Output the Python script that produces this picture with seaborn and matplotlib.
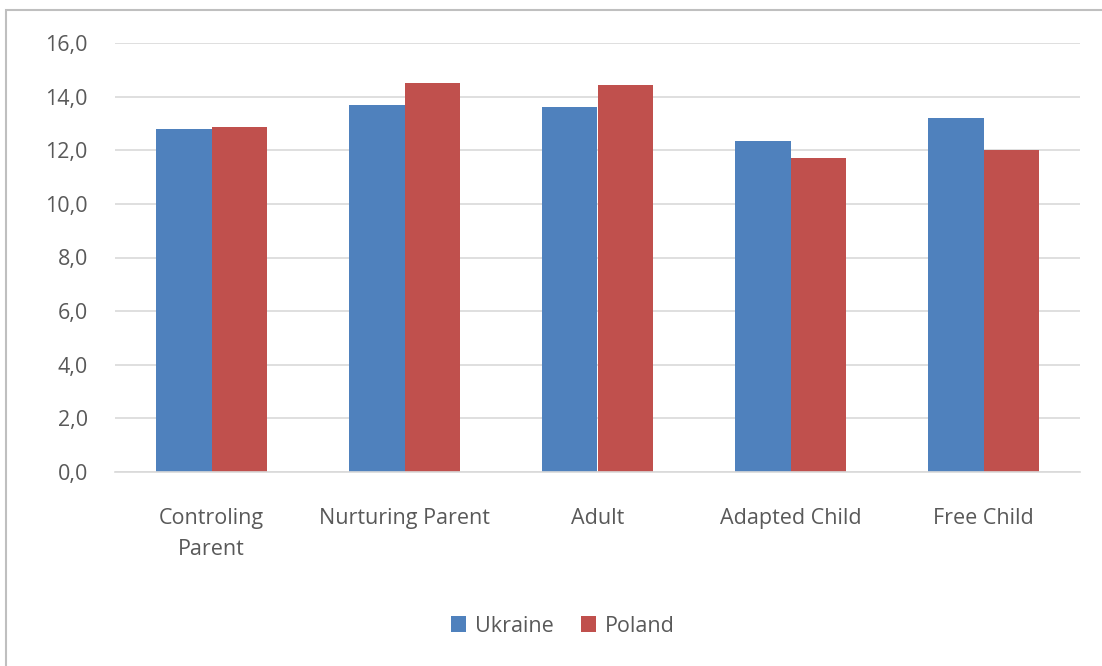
import matplotlib
matplotlib.use("Agg")
import matplotlib.pyplot as plt
import seaborn as sns
import pandas as pd
from matplotlib.patches import Rectangle
from matplotlib.ticker import FuncFormatter

categories = ["Controling\nParent", "Nurturing Parent", "Adult", "Adapted Child", "Free Child"]
ukraine = [12.81, 13.71, 13.63, 12.34, 13.22]
poland = [12.88, 14.52, 14.46, 11.72, 12.01]
series = ["Ukraine", "Poland"]
yticks = [0, 2, 4, 6, 8, 10, 12, 14, 16]

df = pd.DataFrame({
    "cat": categories * 2,
    "val": ukraine + poland,
    "series": [series[0]] * len(categories) + [series[1]] * len(categories),
})

sns.set_theme(style="white")
plt.rcParams['font.family'] = ['Open Sans', 'DejaVu Sans']
txt = "#595959"
fs = 15.5

W, H = 1102, 666
fig = plt.figure(figsize=(W / 100, H / 100), dpi=100)
fig.patch.set_facecolor("white")
fig.patches.append(Rectangle((6 / W, -0.1), 1.2, (H - 10) / H + 0.1, transform=fig.transFigure,
                             fill=False, edgecolor="#BFBFBF", linewidth=1.5, zorder=0))

ax = fig.add_axes([115 / W, (H - 471.7) / H, 965 / W, 428.4 / H])
sns.barplot(data=df, x="cat", y="val", hue="series", palette=["#4F81BD", "#C0504D"],
            saturation=1, width=0.57, ax=ax, edgecolor="none", linewidth=0, legend=True)

ax.set_ylim(0, 16)
ax.set_yticks(yticks)
ax.yaxis.set_major_formatter(FuncFormatter(lambda v, p: f"{v:.1f}".replace(".", ",")))
ax.grid(axis="y", color="#D9D9D9", linewidth=1.2)
ax.set_axisbelow(True)
for s in ["top", "right", "left"]:
    ax.spines[s].set_visible(False)
ax.spines["bottom"].set_color("#D9D9D9")
ax.spines["bottom"].set_linewidth(1.2)
ax.set_xlabel("")
ax.set_ylabel("")
ax.tick_params(axis="y", length=0, pad=19.5, labelsize=fs, labelcolor=txt)
ax.tick_params(axis="x", length=0, pad=26, labelsize=fs, labelcolor=txt)
for lab in ax.get_xticklabels():
    lab.set_linespacing(1.65)
ax.set_xlim(-0.5, len(categories) - 0.5)

leg = ax.legend(loc="center", ncol=2, frameon=False, fontsize=fs, handlelength=0.7,
                handleheight=0.7, handletextpad=0.4, columnspacing=1.3, labelcolor=txt)
leg.set_bbox_to_anchor((563 / W, (H - 626) / H), transform=fig.transFigure)

fig.savefig("out.png", dpi=100, facecolor="white")
